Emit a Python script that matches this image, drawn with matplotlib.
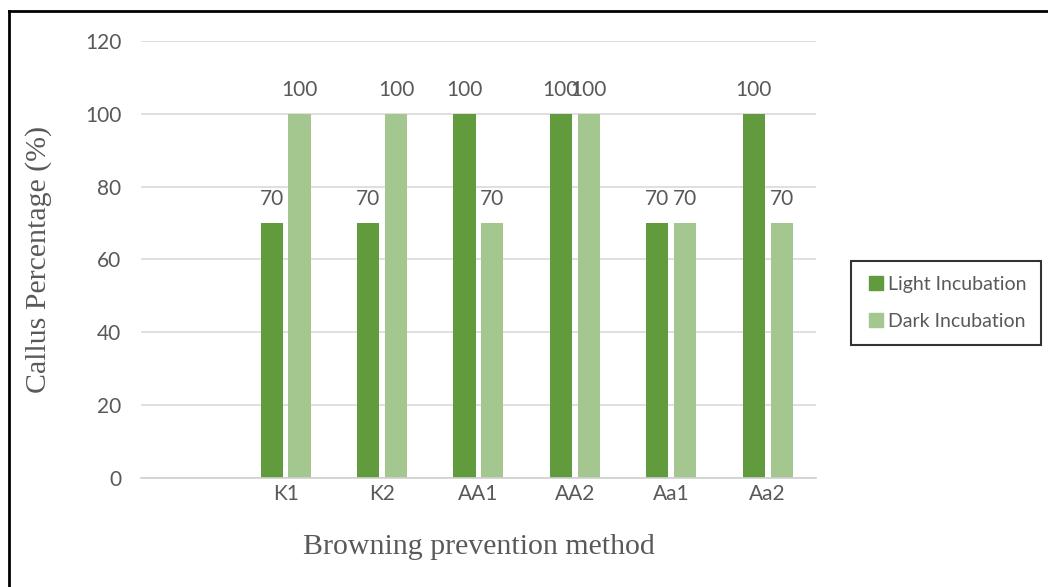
import numpy as np
import matplotlib
matplotlib.use("Agg")
import matplotlib.pyplot as plt
from matplotlib.lines import Line2D

# Callus formation per browning-prevention treatment
methods = ["", "K1", "K2", "AA1", "AA2", "Aa1", "Aa2"]
light = [np.nan, 70, 70, 100, 100, 70, 100]
dark = [np.nan, 100, 100, 70, 100, 70, 70]
yticks = [0, 20, 40, 60, 80, 100, 120]

dark_green = "#629B3E"
light_green = "#A4C68F"
text_gray = "#595959"
tick_font = "Lato"
serif_font = "Liberation Serif"

fig = plt.figure(figsize=(10.48, 5.87), dpi=100)
ax = fig.add_axes([0.1345, 0.1857, 0.644, 0.7445])

x = np.arange(len(methods))
w = 0.23
off = 0.145
b1 = ax.bar(x - off, light, width=w, color=dark_green, label="Light Incubation")
b2 = ax.bar(x + off, dark, width=w, color=light_green, label="Dark Incubation")

# value labels above each bar
for bars, vals in ((b1, light), (b2, dark)):
    for rect, v in zip(bars, vals):
        if np.isnan(v):
            continue
        ax.annotate(f"{v:g}", (rect.get_x() + rect.get_width() / 2, v),
                    xytext=(0, 10), textcoords="offset points",
                    ha="center", va="bottom", fontsize=15,
                    family=tick_font, color=text_gray)

ax.set_xlim(-0.5, len(methods) - 0.5)
ax.set_ylim(0, 120)
ax.set_yticks(yticks)
ax.set_xticks(x)
ax.set_xticklabels(methods)
ax.yaxis.grid(True, color="#d9d9d9", linewidth=1.2)
ax.set_axisbelow(True)
for s in ("top", "right", "left"):
    ax.spines[s].set_visible(False)
ax.spines["bottom"].set_color("#d0d0d0")
ax.spines["bottom"].set_linewidth(1.2)
ax.tick_params(length=0, labelsize=15, labelcolor=text_gray)
ax.tick_params(axis="y", pad=14)
ax.tick_params(axis="x", pad=4)
for lbl in ax.get_xticklabels() + ax.get_yticklabels():
    lbl.set_family(tick_font)

ax.set_ylabel("Callus Percentage (%)", family=serif_font, fontsize=21.5,
              color=text_gray, labelpad=24)
ax.set_xlabel("Browning prevention method", family=serif_font, fontsize=21.5,
              color=text_gray, labelpad=22)

handles = [Line2D([], [], marker="s", linestyle="none", markersize=10,
                  color=c) for c in (dark_green, light_green)]
leg = fig.legend(handles, ["Light Incubation", "Dark Incubation"],
                 loc="center left", bbox_to_anchor=(0.803, 0.4838),
                 frameon=True, fancybox=False, handletextpad=0.15,
                 labelspacing=1.05, borderpad=0.75, handlelength=1.0,
                 prop={"family": tick_font, "size": 14})
leg.get_frame().set_edgecolor("black")
leg.get_frame().set_linewidth(1.5)
for t in leg.get_texts():
    t.set_color(text_gray)

# outer frame on top and left edges
fig.add_artist(Line2D([0.0086, 1.0], [0.981, 0.981], color="black",
                      linewidth=2, transform=fig.transFigure))
fig.add_artist(Line2D([0.0086, 0.0086], [0.0, 0.981], color="black",
                      linewidth=2, transform=fig.transFigure))

fig.savefig("out.png", dpi=100)
